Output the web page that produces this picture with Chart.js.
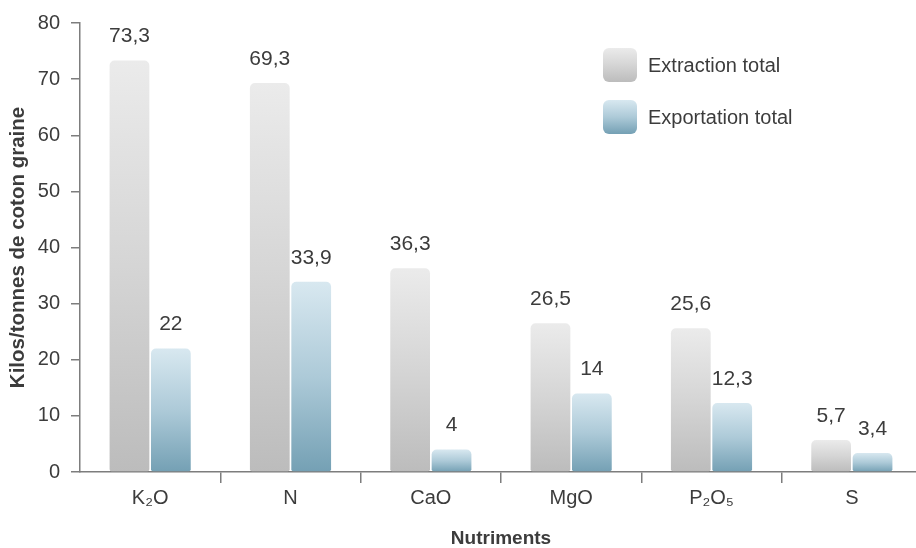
<!DOCTYPE html>
<html lang="fr">
<head>
<meta charset="utf-8">
<title>Extraction et exportation des nutriments</title>
<script src="https://cdn.jsdelivr.net/npm/chart.js@4.4.1/dist/chart.umd.min.js"></script>
<style>
  html, body { margin: 0; padding: 0; background: #ffffff; overflow: hidden; }
  #wrap { position: relative; width: 922px; height: 548px; }
</style>
</head>
<body>
<div id="wrap"><canvas id="chart"></canvas></div>
<script>
// Nutrients (x categories)
const categories = ['K\u2082O', 'N', 'CaO', 'MgO', 'P\u2082O\u2085', 'S'];
// kg per tonne of seed cotton
const extractionTotal = [73.3, 69.3, 36.3, 26.5, 25.6, 5.7];
const exportationTotal = [22, 33.9, 4, 14, 12.3, 3.4];
const seriesNames = ['Extraction total', 'Exportation total'];
const yTicks = [0, 10, 20, 30, 40, 50, 60, 70, 80];

const TEXT = '#3c3c3c';
const AXIS = '#7d7d7d';
const FONT = "'Liberation Sans', Arial, Helvetica, sans-serif";

const greyStops = ['#ebebeb', '#d5d5d5', '#bcbcbc'];
const blueStops = ['#d8e8f0', '#adcad8', '#74a0b4'];

// vertical gradient running from the top of each bar down to the baseline
function barFill(stops) {
  return function (ctx) {
    const chart = ctx.chart;
    if (!chart.chartArea || ctx.type !== 'data' || !chart.scales.y) return stops[1];
    const y = chart.scales.y;
    const top = y.getPixelForValue(ctx.raw);
    const base = y.getPixelForValue(0);
    if (!isFinite(top) || !isFinite(base) || base - top < 1) return stops[1];
    const g = chart.ctx.createLinearGradient(0, top, 0, base);
    g.addColorStop(0, stops[0]);
    g.addColorStop(0.5, stops[1]);
    g.addColorStop(1, stops[2]);
    return g;
  };
}

function fmt(v) {
  return String(v).replace('.', ',');
}

// value written above every bar
const valueLabels = {
  id: 'valueLabels',
  afterDatasetsDraw(chart) {
    const c = chart.ctx;
    c.save();
    c.font = '21px ' + FONT;
    c.fillStyle = TEXT;
    c.textAlign = 'center';
    c.textBaseline = 'middle';
    chart.data.datasets.forEach((ds, di) => {
      const meta = chart.getDatasetMeta(di);
      meta.data.forEach((bar, i) => {
        c.fillText(fmt(ds.data[i]), bar.x, bar.y - 24);
      });
    });
    c.restore();
  }
};

// legend block in the upper right with rounded swatches
const swatchLegend = {
  id: 'swatchLegend',
  afterDraw(chart) {
    const c = chart.ctx;
    const x0 = 603, y0 = 48, size = 34, step = 52;
    const palettes = [greyStops, blueStops];
    c.save();
    chart.data.datasets.forEach((ds, i) => {
      const y = y0 + i * step;
      const st = palettes[i];
      const g = c.createLinearGradient(0, y, 0, y + size);
      g.addColorStop(0, st[0]);
      g.addColorStop(0.5, st[1]);
      g.addColorStop(1, st[2]);
      c.fillStyle = g;
      c.beginPath();
      c.roundRect(x0, y, size, size, 6);
      c.fill();
      c.fillStyle = TEXT;
      c.font = '20px ' + FONT;
      c.textAlign = 'left';
      c.textBaseline = 'middle';
      c.fillText(ds.label, x0 + 45, y + size / 2 + 1);
    });
    c.restore();
  }
};

new Chart(document.getElementById('chart'), {
  type: 'bar',
  data: {
    labels: categories,
    datasets: [
      {
        label: seriesNames[0],
        data: extractionTotal,
        backgroundColor: barFill(greyStops),
        borderRadius: { topLeft: 5, topRight: 5, bottomLeft: 2, bottomRight: 2 },
        borderSkipped: false
      },
      {
        label: seriesNames[1],
        data: exportationTotal,
        backgroundColor: barFill(blueStops),
        borderRadius: { topLeft: 5, topRight: 5, bottomLeft: 2, bottomRight: 2 },
        borderSkipped: false
      }
    ]
  },
  options: {
    responsive: true,
    maintainAspectRatio: false,
    animation: false,
    layout: { padding: { top: 18, right: 0, bottom: 0, left: 0 } },
    datasets: {
      bar: { categoryPercentage: 0.59, barPercentage: 0.96 }
    },
    plugins: {
      legend: { display: false },
      tooltip: { enabled: false }
    },
    scales: {
      x: {
        afterFit(scale) { scale.height = 76; },
        border: { display: true, color: AXIS, width: 1.5 },
        grid: {
          offset: true,
          drawOnChartArea: false,
          drawTicks: true,
          tickLength: 11,
          color: (ctx) => (ctx.index === 0 ? 'rgba(0,0,0,0)' : AXIS),
          lineWidth: 1.5
        },
        ticks: {
          color: TEXT,
          font: { family: FONT, size: 20 },
          padding: 3,
          maxRotation: 0
        },
        title: {
          display: true,
          text: 'Nutriments',
          color: TEXT,
          font: { family: FONT, size: 19, weight: 'bold', lineHeight: 1 },
          padding: { top: 0, bottom: 0 }
        }
      },
      y: {
        min: 0,
        max: 80,
        afterFit(scale) { scale.width = 80; },
        afterBuildTicks(scale) { scale.ticks = yTicks.map(v => ({ value: v })); },
        border: { display: true, color: AXIS, width: 1.5 },
        grid: {
          drawOnChartArea: false,
          drawTicks: true,
          tickLength: 9,
          color: AXIS,
          lineWidth: 1.5
        },
        ticks: {
          color: TEXT,
          font: { family: FONT, size: 20 },
          padding: 11
        },
        title: {
          display: true,
          text: 'Kilos/tonnes de coton graine',
          color: TEXT,
          font: { family: FONT, size: 20.5, weight: 'bold', lineHeight: 1.2 },
          padding: { top: 6, bottom: 0 }
        }
      }
    }
  },
  plugins: [valueLabels, swatchLegend]
});
</script>
</body>
</html>
